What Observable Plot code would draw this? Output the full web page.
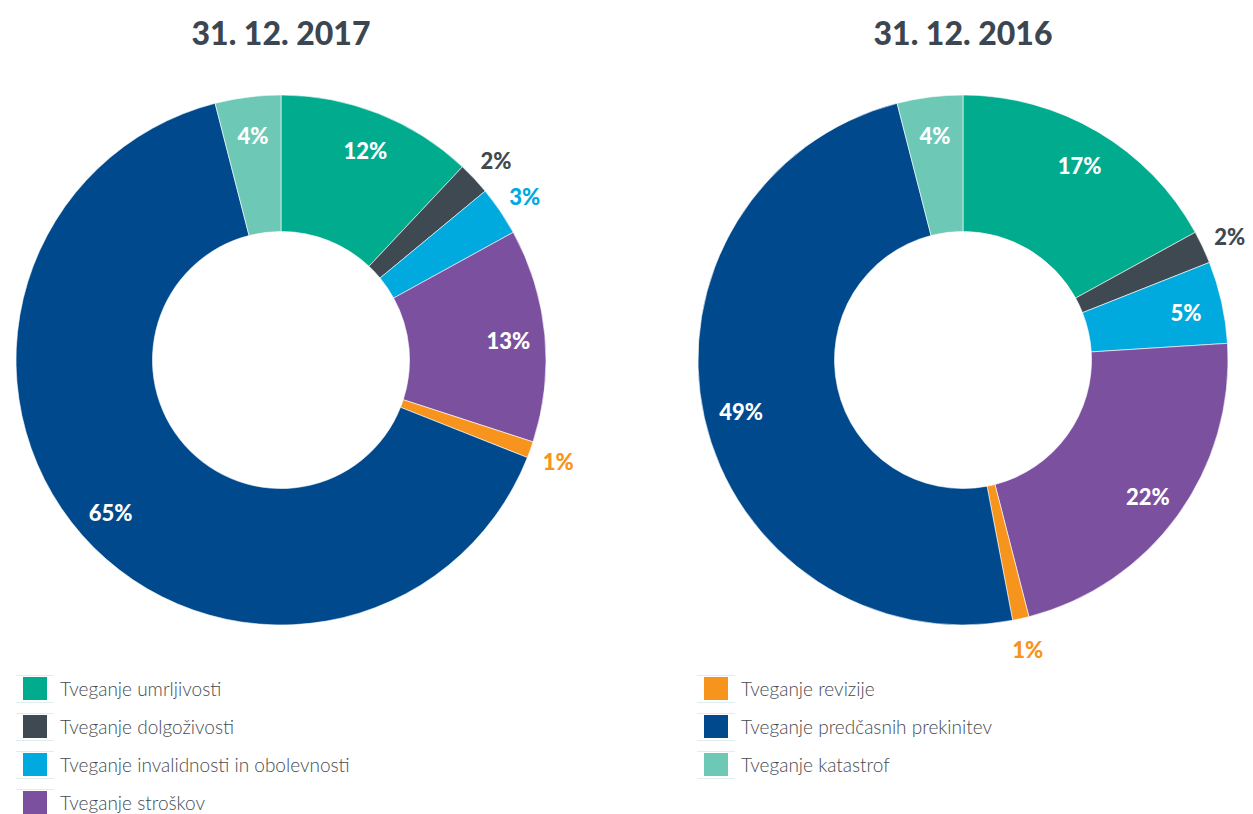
<!DOCTYPE html>
<html>
<head>
<meta charset="utf-8">
<script src="https://cdn.jsdelivr.net/npm/d3@7"></script>
<script src="https://cdn.jsdelivr.net/npm/@observablehq/plot@0.6"></script>
<style>
  html, body { margin: 0; padding: 0; background: #fff; }
  #root { position: relative; width: 1253px; height: 814px; overflow: hidden; font-family: Lato, "Open Sans", sans-serif; }
  .title { position: absolute; top: 13px; width: 400px; text-align: center; font-weight: 900; font-size: 32px; line-height: 40px; color: #3d4650; }
  .chart { position: absolute; top: 60px; }
  .row { position: absolute; height: 38px; display: flex; align-items: center; }
  .sw { width: 24px; height: 23px; margin-right: 13px; position: relative; }
  .sw::before, .sw::after { content: ""; position: absolute; left: -7px; width: 38px; height: 1px; background: #dcefec; }
  .sw::before { top: -2px; }
  .sw::after { bottom: -3px; }
  .lab { font-size: 19px; font-weight: 300; color: #454b52; white-space: nowrap; }
</style>
</head>
<body>
<div id="root"></div>
<script>
// ---- data ----
const categories = [
  "Tveganje umrljivosti",
  "Tveganje dolgoživosti",
  "Tveganje invalidnosti in obolevnosti",
  "Tveganje stroškov",
  "Tveganje revizije",
  "Tveganje predčasnih prekinitev",
  "Tveganje katastrof"
];
const colors = ["#00ab8e", "#3e4951", "#00aadf", "#7b509f", "#f7941e", "#00498d", "#6dc9b6"];
const titles = ["31. 12. 2017", "31. 12. 2016"];
const values2017 = [12, 2, 3, 13, 1, 65, 4];
const values2016 = [17, 2, 5, 22, 1, 49, 4];

const root = document.getElementById("root");

function donut(values, {width, height, cx, cy, R, hole}) {
  const data = categories.map((c, i) => ({category: c, value: values[i], color: colors[i]}));
  const arcs = d3.pie().sort(null).value(d => d.value)(data);
  const labels = arcs.map(a => {
    const mid = (a.startAngle + a.endAngle) / 2;
    const outside = a.data.value <= 3;
    const rr = outside ? 1.11 : 0.86;
    return {x: rr * Math.sin(mid), y: rr * Math.cos(mid), text: a.data.value + "%", fill: outside ? a.data.color : "#ffffff"};
  });
  return Plot.plot({
    width, height, margin: 0,
    style: {fontFamily: "Lato, 'Open Sans', sans-serif", background: "transparent", overflow: "visible"},
    x: {domain: [-cx / R, (width - cx) / R], axis: null},
    y: {domain: [-(height - cy) / R, cy / R], axis: null},
    color: {type: "identity"},
    marks: [
      (index, scales) => {
        const px0 = scales.x(0), py0 = scales.y(0), pr = scales.x(1) - scales.x(0);
        const arc = d3.arc().innerRadius(pr * hole).outerRadius(pr);
        const g = d3.create("svg:g").attr("transform", `translate(${px0},${py0})`);
        g.selectAll("path").data(arcs).join("path")
          .attr("d", arc)
          .attr("fill", d => d.data.color)
          .attr("stroke", "#ffffff")
          .attr("stroke-width", 0.6);
        return g.node();
      },
      Plot.text(labels, {x: "x", y: "y", text: "text", fill: "fill", fontSize: 22, fontWeight: 900, dy: 3})
    ]
  });
}

const specs = [
  {values: values2017, left: 0, cx: 281},
  {values: values2016, left: 627, cx: 336}
];
specs.forEach((s, i) => {
  const t = document.createElement("div");
  t.className = "title";
  t.textContent = titles[i];
  t.style.left = (s.left + s.cx - 200) + "px";
  root.appendChild(t);
  const c = document.createElement("div");
  c.className = "chart";
  c.style.left = s.left + "px";
  c.appendChild(donut(s.values, {width: 626, height: 600, cx: s.cx, cy: 300, R: 265, hole: 0.485}));
  root.appendChild(c);
});

// legend: first four in left column, rest in right column
categories.forEach((name, i) => {
  const col = i < 4 ? 0 : 1;
  const rowIdx = i < 4 ? i : i - 4;
  const r = document.createElement("div");
  r.className = "row";
  r.style.left = (col === 0 ? 23 : 704) + "px";
  r.style.top = (669 + 38 * rowIdx) + "px";
  const sw = document.createElement("div");
  sw.className = "sw";
  sw.style.background = colors[i];
  const lab = document.createElement("div");
  lab.className = "lab";
  lab.textContent = name;
  r.appendChild(sw);
  r.appendChild(lab);
  root.appendChild(r);
});
</script>
</body>
</html>
